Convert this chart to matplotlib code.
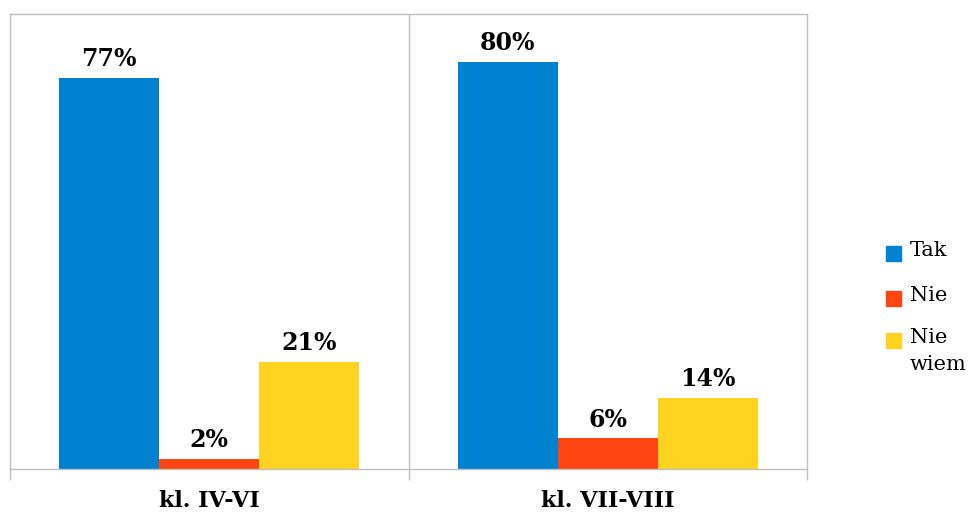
import matplotlib.pyplot as plt
from matplotlib.patches import Rectangle
import numpy as np

# survey answers by class group (percent)
groups = ["kl. IV-VI", "kl. VII-VIII"]
answers = ["Tak", "Nie", "Nie\nwiem"]
tak = [77, 80]
nie = [2, 6]
nie_wiem = [21, 14]

colors = ["#0082D1", "#FF4512", "#FFD320"]
frame = "#BFBFBF"
W, H = 972, 513

fig = plt.figure(figsize=(W / 100, H / 100), dpi=100)
ax = fig.add_axes([10 / W, 44 / H, 797 / W, 455 / H])

centers = np.arange(len(groups)) + 0.5
width = 100 / 398
series = [tak, nie, nie_wiem]
for i, (vals, col) in enumerate(zip(series, colors)):
    xs = centers + (i - 1) * width
    ax.bar(xs, vals, width=width, color=col, zorder=2)
    for x, v in zip(xs, vals):
        ax.annotate(f"{v}%", (x, v), xytext=(0, 5), textcoords="offset points",
                    ha="center", va="bottom", fontsize=17, fontweight="bold",
                    family="DejaVu Serif")

ax.set_xlim(0, len(groups))
ax.set_ylim(0, 89.5)
ax.axvline(1, color=frame, lw=1, zorder=1)
for s in ax.spines.values():
    s.set_color(frame)
    s.set_linewidth(1)

ax.set_yticks([])
ax.set_xticks(centers)
ax.set_xticklabels(groups, fontsize=16, fontweight="bold", family="DejaVu Serif")
ax.tick_params(axis="x", which="major", length=0, pad=15)
ax.set_xticks([0, 1, 2], minor=True)
ax.tick_params(axis="x", which="minor", length=8, color=frame, width=1)

# legend drawn by hand so the square sits beside the first line of a wrapped label
sq = 15
for lab, col, yc in zip(answers, colors, [253, 298, 340]):
    fig.patches.append(Rectangle((886 / W, 1 - (yc + sq / 2) / H), sq / W, sq / H,
                                 transform=fig.transFigure, color=col))
    fig.text(910 / W, 1 - (yc - 12) / H, lab, ha="left", va="top",
             fontsize=15, family="DejaVu Serif", linespacing=1.55)

fig.savefig("out.png", dpi=100)
